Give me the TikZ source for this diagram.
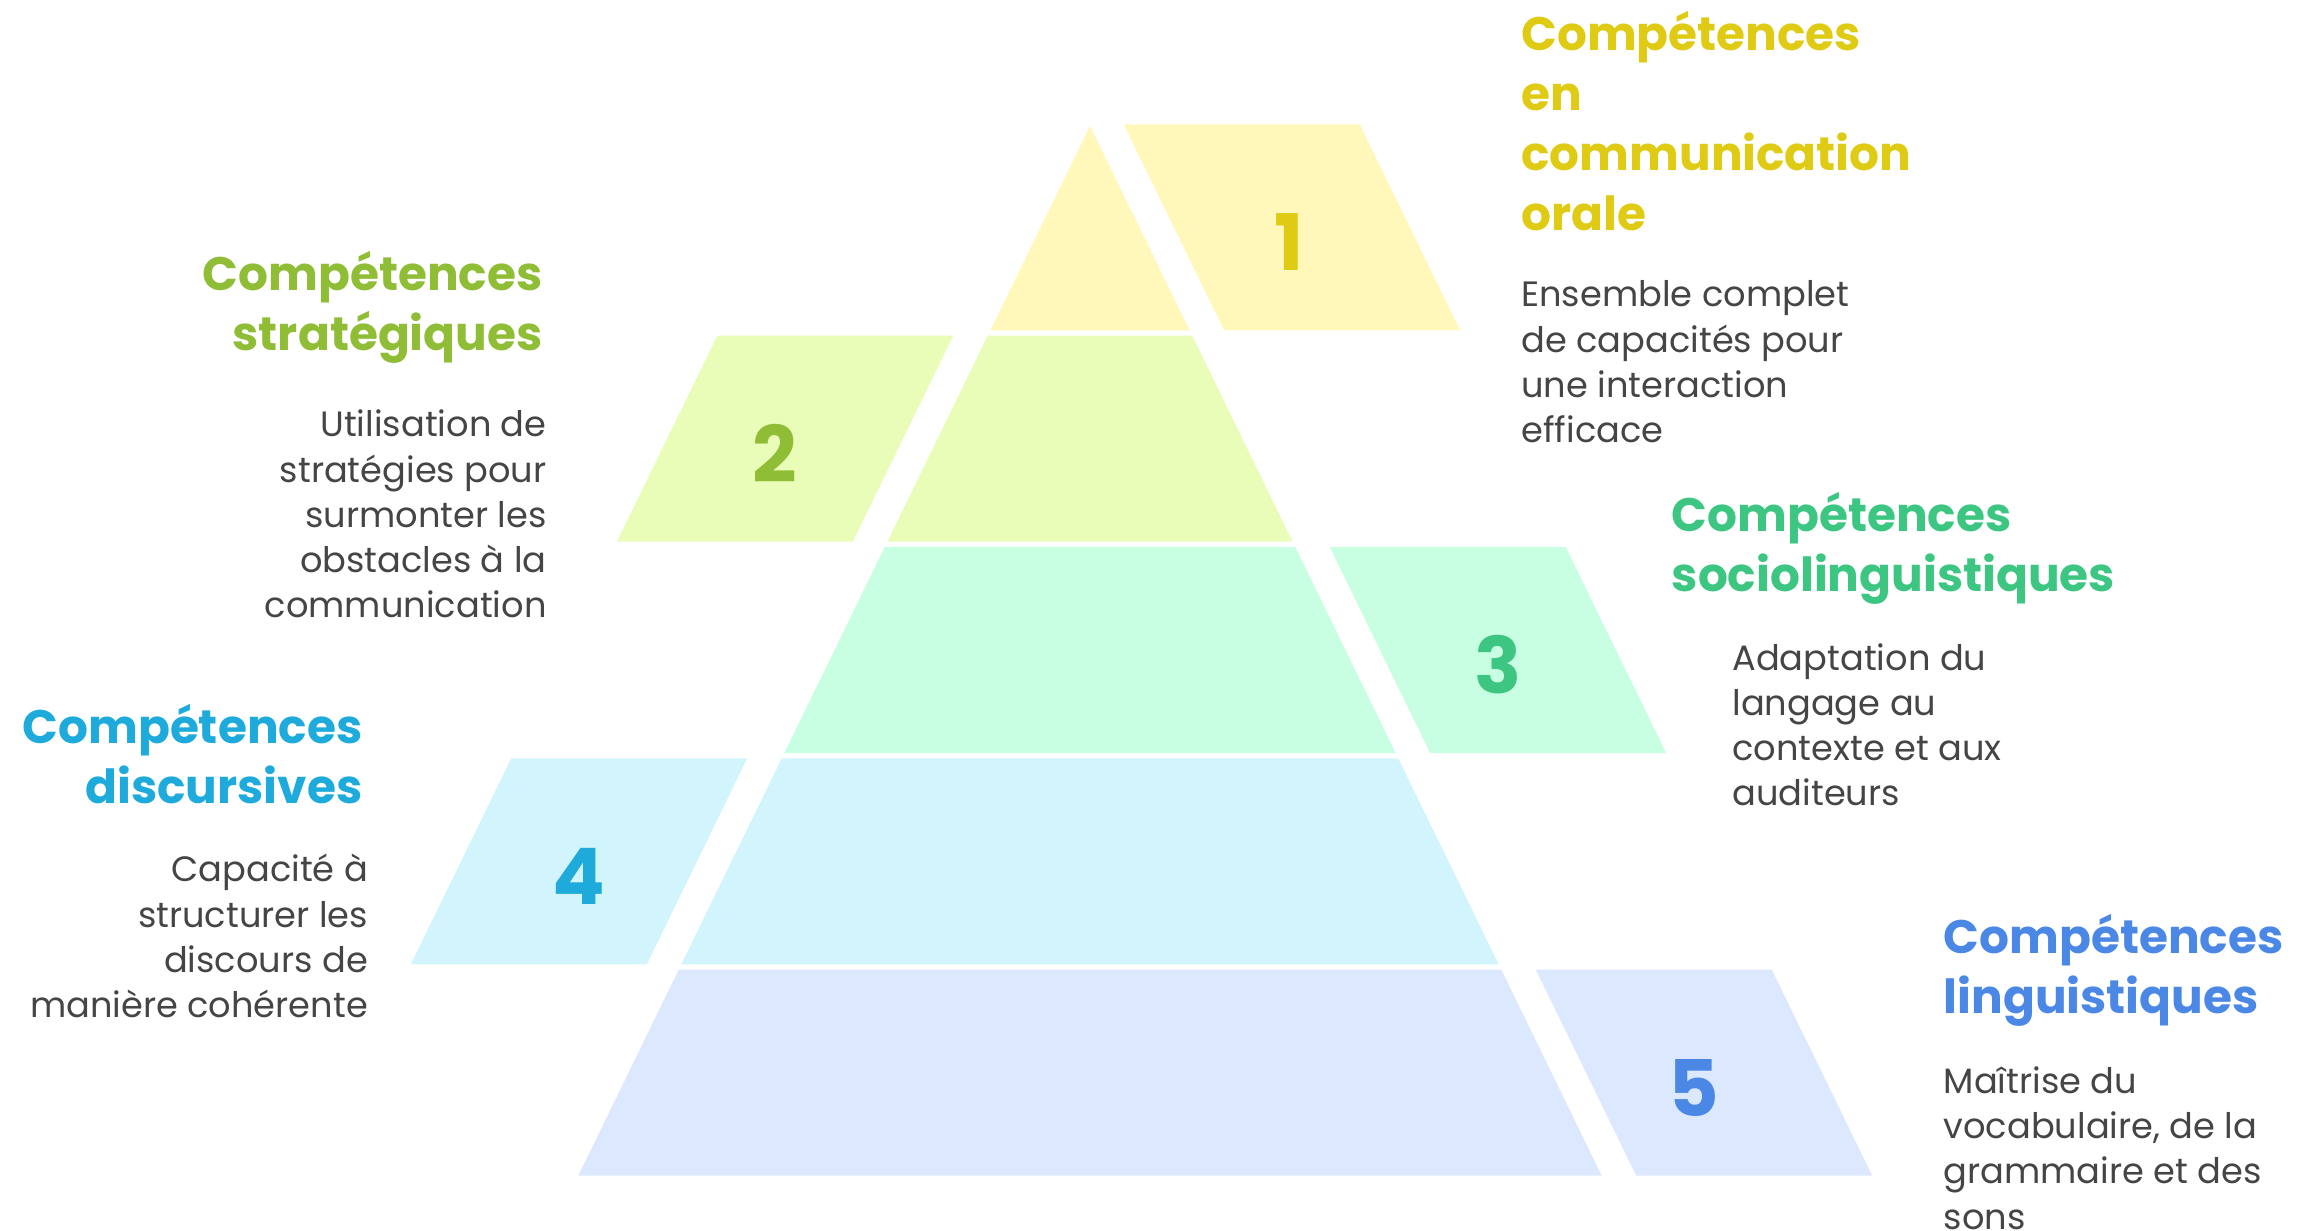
\documentclass[tikz,border=0pt]{standalone}
\usepackage{fontspec}
\setmainfont{Poppins}
\usepackage{tikz}

\definecolor{pyrfill1}{HTML}{FFF8BA}
\definecolor{pyrfill2}{HTML}{EAFDB8}
\definecolor{pyrfill3}{HTML}{C8FFE2}
\definecolor{pyrfill4}{HTML}{D2F4FD}
\definecolor{pyrfill5}{HTML}{DCE8FE}
\definecolor{pyrtext1}{HTML}{E0CB14}
\definecolor{pyrtext2}{HTML}{8FBD36}
\definecolor{pyrtext3}{HTML}{3CC682}
\definecolor{pyrtext4}{HTML}{1EAADB}
\definecolor{pyrtext5}{HTML}{4B88E5}
\definecolor{bodygrey}{HTML}{454545}

\begin{document}
\begin{tikzpicture}[x=0.5pt, y=-0.5pt,
	numstyle/.style={font=\fontsize{39}{39}\selectfont\bfseries, inner sep=0pt},
	titlestyle/.style={font=\fontsize{23.5}{30}\selectfont\bfseries, inner sep=0pt},
	descstyle/.style={font=\fontsize{17.6}{22.65}\selectfont, text=bodygrey, inner sep=0pt}]

\useasboundingbox (0,0) rectangle (2299,1231);
\clip (0,0) rectangle (2299,1231);

\foreach \i/\s/\dx in {1/1/-3, 2/-1/-10, 3/1/0, 4/-1/0, 5/1/-10} {
	\pgfmathsetmacro\yt{124.3+211.35*(\i-1)}
	\pgfmathsetmacro\yb{\yt+206}
	\pgfmathsetmacro\ya{max(\yt,126)}
	\pgfmathsetmacro\wt{0.4875*(\ya-126)}
	\pgfmathsetmacro\wb{0.4875*(\yb-126)}
	% pyramid tier
	\fill[pyrfill\i] ({1090-\wt},\ya) -- ({1090+\wt},\ya) -- ({1090+\wb},\yb) -- ({1090-\wb},\yb) -- cycle;

	% side block
	\pgfmathsetmacro\pa{1090+(\s)*(0.4875*(\yt-126)+34.5)}
	\pgfmathsetmacro\pb{1090+(\s)*(\wb+34.5)}
	\fill[pyrfill\i] (\pa,\yt) -- ({\pa+(\s)*236},\yt) -- ({\pb+(\s)*236},\yb) -- (\pb,\yb) -- cycle;

	\node[numstyle, text=pyrtext\i] (num\i) at ({(\pa+\pb)/2+(\s)*118+\dx}, {(\yt+\yb)/2+15}) {\i};
}

\node[titlestyle, text=pyrtext1, anchor=base west] (title1) at (1521, 50)
	{\begin{tabular}[t]{@{}l@{}}Compétences\\en\\communication\\orale\end{tabular}};
\node[descstyle, anchor=base west] (desc1) at (1521, 306.7)
	{\begin{tabular}[t]{@{}l@{}}Ensemble complet\\de capacités pour\\une interaction\\efficace\end{tabular}};

\node[titlestyle, text=pyrtext2, anchor=base east] (title2) at (543, 290)
	{\begin{tabular}[t]{@{}r@{}}Compétences\\stratégiques\end{tabular}};
\node[descstyle, anchor=base east] (desc2) at (547, 436.7)
	{\begin{tabular}[t]{@{}r@{}}Utilisation de\\stratégies pour\\surmonter les\\obstacles à la\\communication\end{tabular}};

\node[titlestyle, text=pyrtext3, anchor=base west] (title3) at (1671.4, 531.7)
	{\begin{tabular}[t]{@{}l@{}}Compétences\\sociolinguistiques\end{tabular}};
\node[descstyle, anchor=base west] (desc3) at (1732, 670)
	{\begin{tabular}[t]{@{}l@{}}Adaptation du\\langage au\\contexte et aux\\auditeurs\end{tabular}};

\node[titlestyle, text=pyrtext4, anchor=base east] (title4) at (362.7, 743.3)
	{\begin{tabular}[t]{@{}r@{}}Compétences\\discursives\end{tabular}};
\node[descstyle, anchor=base east] (desc4) at (368.3, 881.7)
	{\begin{tabular}[t]{@{}r@{}}Capacité à\\structurer les\\discours de\\manière cohérente\end{tabular}};

\node[titlestyle, text=pyrtext5, anchor=base west] (title5) at (1943.3, 953.3)
	{\begin{tabular}[t]{@{}l@{}}Compétences\\linguistiques\end{tabular}};
\node[descstyle, anchor=base west] (desc5) at (1943.3, 1093.3)
	{\begin{tabular}[t]{@{}l@{}}Maîtrise du\\vocabulaire, de la\\grammaire et des\\sons\end{tabular}};

\end{tikzpicture}
\end{document}
